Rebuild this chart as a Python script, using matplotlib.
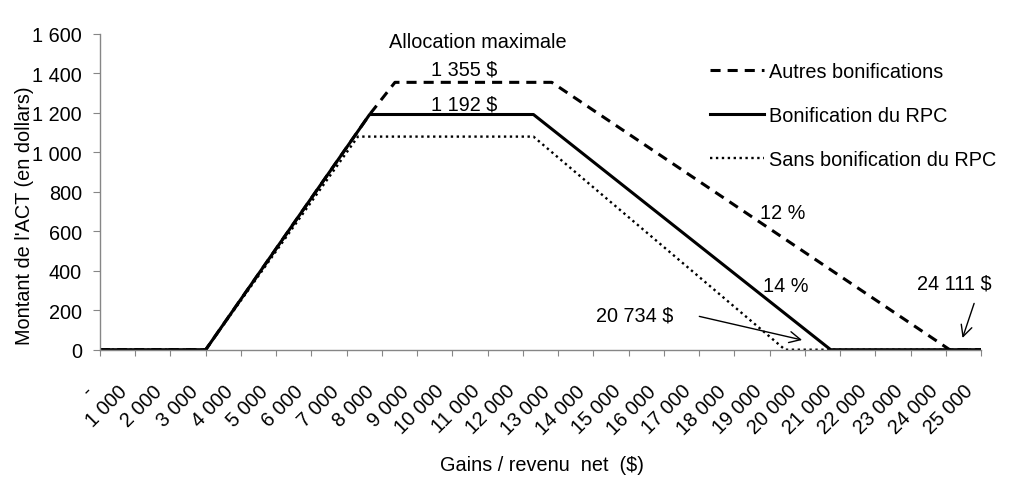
import matplotlib
matplotlib.use("Agg")
import matplotlib.pyplot as plt
import matplotlib.transforms as mtransforms

plt.rcParams['font.family'] = ['Liberation Sans', 'DejaVu Sans']

# gains / revenu net ($) et montant de l'ACT ($), points de cassure
rpc_x = [0, 3000, 7650, 12300, 20734, 25000]
rpc_y = [0, 0, 1192, 1192, 0, 0]
sans_x = [0, 3000, 7320, 12300, 19440, 25000]
sans_y = [0, 0, 1080, 1080, 0, 0]
autres_x = [0, 3000, 7650, 8370, 12820, 24111, 25000]
autres_y = [0, 0, 1192, 1355, 1355, 0, 0]

xticks = list(range(0, 25001, 1000))
xlabels = ["-"] + [f"{v:,}".replace(",", " ") for v in xticks[1:]]
yticks = list(range(0, 1601, 200))
ylabels = [f"{v:,}".replace(",", " ") for v in yticks]

fs = 14.3
grey = "#868686"

fig = plt.figure(figsize=(10.1, 4.85), dpi=100)
ax = fig.add_axes([100 / 1010, 1 - 350.7 / 485, 881 / 1010, 315.7 / 485])

ax.plot(autres_x, autres_y, color="black", lw=2.2, dashes=(3.3, 2.3), label="Autres bonifications")
ax.plot(rpc_x, rpc_y, color="black", lw=2.2, label="Bonification du RPC")
ax.plot(sans_x, sans_y, color="black", lw=1.7, dashes=(1, 1.5), label="Sans bonification du RPC")

ax.set_xlim(0, 25000)
ax.set_ylim(0, 1600)
ax.set_xticks(xticks)
ax.set_xticklabels(xlabels, rotation=45, ha="right", va="center", rotation_mode="anchor", fontsize=fs)
ax.set_yticks(yticks)
ax.set_yticklabels(ylabels, fontsize=fs)
ax.tick_params(axis="y", length=5, color=grey, pad=8)
ax.tick_params(axis="x", length=4.3, color=grey, pad=0)
# décalage des étiquettes inclinées comme dans l'original
off = mtransforms.ScaledTranslation(-11 / 100, -32 / 100, fig.dpi_scale_trans)
for lab in ax.get_xticklabels():
    lab.set_transform(lab.get_transform() + off)

for s in ["top", "right"]:
    ax.spines[s].set_visible(False)
for s in ["left", "bottom"]:
    ax.spines[s].set_color(grey)
    ax.spines[s].set_linewidth(1)

ax.set_ylabel("Montant de l'ACT (en dollars)", fontsize=fs, va="center")
ax.yaxis.set_label_coords(25 / 1010, 0.5, transform=fig.transFigure)
ax.yaxis.label.set_y(1 - 216 / 485)
fig.text(542 / 1010, 1 - 466 / 485, "Gains / revenu  net  ($)", ha="center", va="center", fontsize=fs)

ax.text(10710, 1561, "Allocation maximale", ha="center", va="center", fontsize=fs)
ax.text(10330, 1422, "1 355 $", ha="center", va="center", fontsize=fs)
ax.text(10330, 1245, "1 192 $", ha="center", va="center", fontsize=fs)
ax.text(19380, 696, "12 %", ha="center", va="center", fontsize=fs)
ax.text(19470, 324, "14 %", ha="center", va="center", fontsize=fs)
ax.text(15180, 176, "20 734 $", ha="center", va="center", fontsize=fs)
ax.text(24230, 338, "24 111 $", ha="center", va="center", fontsize=fs)

ax.annotate("", xy=(20000, 46), xytext=(16930, 172),
            arrowprops=dict(arrowstyle="->", color="black", lw=1, mutation_scale=20))
ax.annotate("", xy=(24450, 46), xytext=(24830, 248),
            arrowprops=dict(arrowstyle="->", color="black", lw=1, mutation_scale=20))

ax.legend(loc="upper left", bbox_to_anchor=(710 / 1010, 1 - 63 / 485), bbox_transform=fig.transFigure,
          frameon=False, fontsize=fs, borderpad=0, borderaxespad=0, handlelength=2.7,
          handletextpad=0.25, labelspacing=1.27)

fig.savefig("out.png", dpi=100)
